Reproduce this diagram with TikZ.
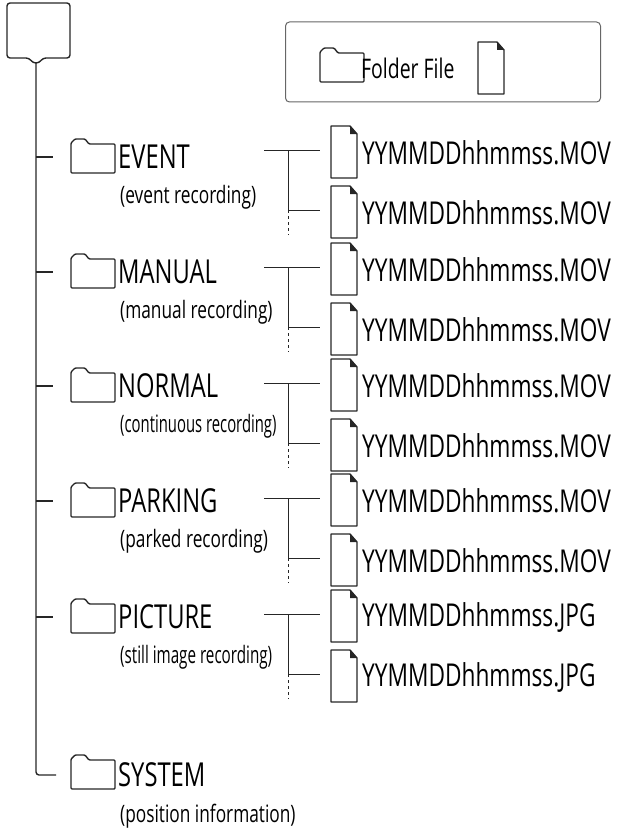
\documentclass[tikz,border=0pt]{standalone}
\usepackage{fontspec}
\setmainfont{Open Sans}[FakeStretch=0.72]
\usetikzlibrary{positioning}
\tikzset{
  line/.style={line width=1.4pt, draw=black!85},
  folder/.pic={\draw[line, line join=round, rounded corners=1pt] (0,0) -- (0,-30) -- (4,-34) -- (14,-34) -- (18,-29) -- (44,-29) -- (44,0) -- cycle;},
  file/.pic={\draw[line, line join=round] (0,0) -- (0,52) -- (26,52) -- (26,8) -- (19,0) -- cycle;
             \fill[black!85] (19,0) -- (26,8) -- (19,8) -- cycle;},
  fname/.style={font=\fontsize{31.5}{32}\selectfont, anchor=west, inner sep=0pt},
  dname/.style={font=\fontsize{33}{34}\selectfont, anchor=west, inner sep=0pt},
  dsub/.style={font=\fontsize{24}{25}\selectfont, anchor=west, inner sep=0pt}
}
\begin{document}
\begin{tikzpicture}[x=1pt,y=-1pt]
  \useasboundingbox (0,0) rectangle (618,840);
  % memory card
  \draw[line, rounded corners=3pt] (7,3) -- (70,3) -- (70,58) -- (43,58) -- (39,63) -- (33,63) -- (29,58) -- (7,58) -- cycle;
  \coordinate (root) at (36,63);
  % legend
  \node (legend) [draw=black!60, line width=1pt, rounded corners=4pt, minimum width=315pt, minimum height=80pt] at (443,62) {};
  \pic at (320,82) {folder};
  \node (lgtext) [fname, font=\fontsize{27}{28}\selectfont] at (361,68) {Folder File};
  \pic at (478,42) {file};
  % folders
  \foreach \y/\name/\sub/\sx [count=\i] in {157/EVENT/event recording/1, 272/MANUAL/manual recording/1,
      386/NORMAL/continuous recording/0.86, 501/PARKING/parked recording/1, 617/PICTURE/still image recording/0.88} {
    \coordinate (tick\i) at (36,\y);
    \draw[line] (tick\i) -- ++(17,0);
    \pic at (71,\y+16) {folder};
    \node (dir\i) [dname] at (118,\y) {\name};
    \node (sub\i) [dsub] at (120,\y+40) {\scalebox{\sx}[1]{(\sub)}};
  }
  \pic at (71,789) {folder};
  \node (dir6) [dname] at (118,775) {SYSTEM};
  \node (sub6) [dsub] at (120,816) {(position information)};
  \coordinate (tick6) at (56,775);
  \draw[line, rounded corners=3pt] (root) -- (36,775) -- (tick6);
  % files
  \foreach \y/\ext [count=\i] in {153/MOV, 270/MOV, 386/MOV, 501/MOV, 617/JPG} {
    \pic at (331,\y-27) {file};
    \pic at (331,\y+33) {file};
    \node (fa\i) [fname] at (362,\y) {YYMMDDhhmmss.\ext};
    \node (fb\i) [fname] at (362,\y+60) {YYMMDDhhmmss.\ext};
    \coordinate (ja\i) at (264,\y-3);
    \coordinate (jb\i) at (288,\y-3);
    \coordinate (jc\i) at (288,\y+57);
    \coordinate (jd\i) at (288,\y+82);
    \draw[line, line width=1pt] (ja\i) -- (320,\y-3);
    \draw[line, line width=1pt] (jb\i) -- (jc\i) -- (320,\y+57);
    \draw[line, line width=1pt, dashed, dash pattern=on 3pt off 3pt] (jc\i) -- (jd\i);
  }
\end{tikzpicture}
\end{document}
